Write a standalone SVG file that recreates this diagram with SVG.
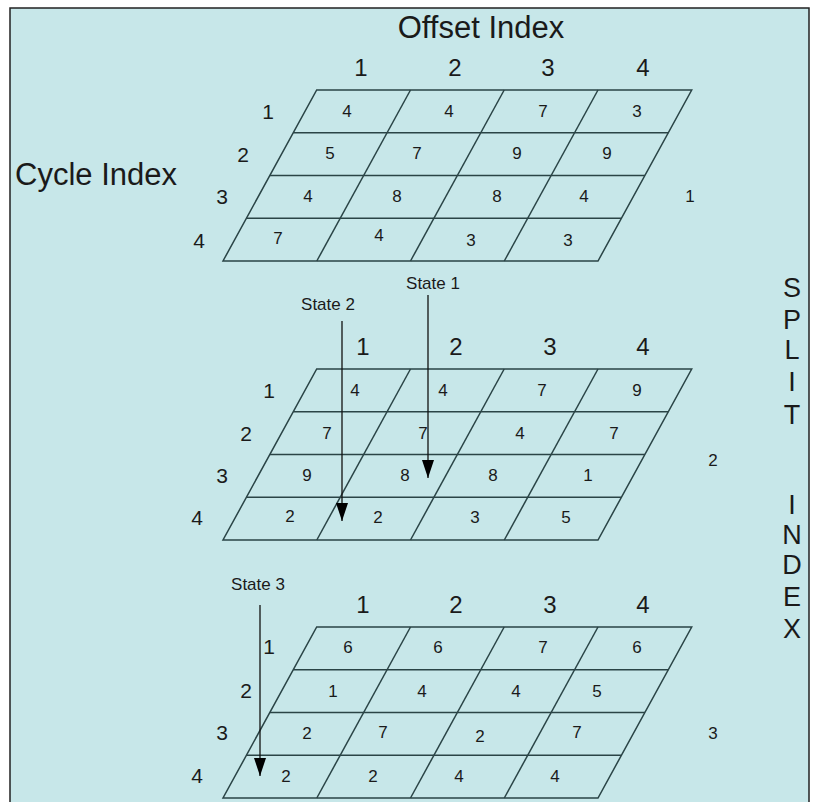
<svg xmlns="http://www.w3.org/2000/svg" width="814" height="802" viewBox="0 0 814 802">
<style>
text{font-family:"Liberation Sans",Arial,sans-serif;fill:#1a1a1a;text-anchor:middle}
.t{font-size:31px}
.h{font-size:24px}
.v{font-size:27px}
.r{font-size:21px}
.c{font-size:17px}
.s{font-size:17px}
.g{fill:none;stroke:#2a4446;stroke-width:1.5}
.a{stroke:#111;stroke-width:1.3}
</style>
<defs>
<g id="grid">
<polygon class="g" points="316.7,0 691.7,0 598,171 223,171"/>
<line class="g" x1="293.3" y1="42.75" x2="668.3" y2="42.75"/>
<line class="g" x1="269.9" y1="85.5" x2="644.9" y2="85.5"/>
<line class="g" x1="246.4" y1="128.25" x2="621.4" y2="128.25"/>
<line class="g" x1="410.5" y1="0" x2="316.8" y2="171"/>
<line class="g" x1="504.2" y1="0" x2="410.5" y2="171"/>
<line class="g" x1="598" y1="0" x2="504.3" y2="171"/>
</g>
<marker id="ah" viewBox="0 0 18 12" refX="18" refY="6" markerWidth="18" markerHeight="12" markerUnits="userSpaceOnUse" orient="auto">
<path d="M0,0 L18,6 L0,12 Z" fill="#000"/>
</marker>
</defs>
<rect x="0" y="0" width="814" height="802" fill="#fff"/>
<rect x="10" y="8" width="799" height="800" fill="#c7e7e9" stroke="#222" stroke-width="1.5"/>
<g id="titles">
<text class="t" x="481" y="38">Offset Index</text>
<text class="t" x="96" y="185">Cycle Index</text>
<g id="split-index">
<text class="v" x="792" y="297">S</text>
<text class="v" x="792" y="329">P</text>
<text class="v" x="792" y="359">L</text>
<text class="v" x="792" y="391">I</text>
<text class="v" x="792" y="424">T</text>
<text class="v" x="792" y="514">I</text>
<text class="v" x="792" y="544">N</text>
<text class="v" x="792" y="574">D</text>
<text class="v" x="792" y="606">E</text>
<text class="v" x="792" y="638">X</text>
</g>
</g>
<g id="split1">
<use href="#grid" y="90"/>
<text class="h" x="361" y="76">1</text><text class="h" x="455" y="76">2</text><text class="h" x="548" y="76">3</text><text class="h" x="643" y="76">4</text>
<text class="r" x="268" y="119">1</text><text class="r" x="243" y="162">2</text><text class="r" x="222" y="204">3</text><text class="r" x="199" y="248">4</text>
<text class="c" x="347" y="117">4</text><text class="c" x="449" y="117">4</text><text class="c" x="543" y="117">7</text><text class="c" x="637" y="117">3</text>
<text class="c" x="330" y="159">5</text><text class="c" x="417" y="159">7</text><text class="c" x="517" y="159">9</text><text class="c" x="607" y="159">9</text>
<text class="c" x="308" y="202">4</text><text class="c" x="397" y="202">8</text><text class="c" x="497" y="202">8</text><text class="c" x="584" y="202">4</text>
<text class="c" x="278" y="244">7</text><text class="c" x="379" y="241">4</text><text class="c" x="471" y="246">3</text><text class="c" x="568" y="246">3</text>
<text class="c" x="690" y="202">1</text>
</g>
<g id="split2">
<use href="#grid" y="369"/>
<text class="h" x="363" y="355">1</text><text class="h" x="456" y="355">2</text><text class="h" x="550" y="355">3</text><text class="h" x="643" y="355">4</text>
<text class="r" x="269" y="398">1</text><text class="r" x="246" y="441">2</text><text class="r" x="222" y="483">3</text><text class="r" x="197" y="525">4</text>
<text class="c" x="355" y="396">4</text><text class="c" x="443" y="396">4</text><text class="c" x="542" y="396">7</text><text class="c" x="637" y="396">9</text>
<text class="c" x="327" y="439">7</text><text class="c" x="423" y="439">7</text><text class="c" x="520" y="439">4</text><text class="c" x="614" y="439">7</text>
<text class="c" x="307" y="481">9</text><text class="c" x="405" y="481">8</text><text class="c" x="493" y="481">8</text><text class="c" x="588" y="481">1</text>
<text class="c" x="290" y="522">2</text><text class="c" x="378" y="523">2</text><text class="c" x="475" y="523">3</text><text class="c" x="566" y="523">5</text>
<text class="c" x="713" y="466">2</text>
</g>
<g id="split3">
<use href="#grid" y="627"/>
<text class="h" x="363" y="613">1</text><text class="h" x="456" y="613">2</text><text class="h" x="550" y="613">3</text><text class="h" x="643" y="613">4</text>
<text class="r" x="269" y="654">1</text><text class="r" x="246" y="698">2</text><text class="r" x="222" y="740">3</text><text class="r" x="197" y="783">4</text>
<text class="c" x="348" y="653">6</text><text class="c" x="438" y="653">6</text><text class="c" x="543" y="653">7</text><text class="c" x="637" y="653">6</text>
<text class="c" x="333" y="697">1</text><text class="c" x="422" y="697">4</text><text class="c" x="516" y="697">4</text><text class="c" x="597" y="697">5</text>
<text class="c" x="307" y="739">2</text><text class="c" x="383" y="738">7</text><text class="c" x="480" y="742">2</text><text class="c" x="577" y="738">7</text>
<text class="c" x="286" y="782">2</text><text class="c" x="373" y="782">2</text><text class="c" x="459" y="782">4</text><text class="c" x="555" y="782">4</text>
<text class="c" x="713" y="739">3</text>
</g>
<g id="states">
<text class="s" x="433" y="289">State 1</text>
<text class="s" x="328" y="310">State 2</text>
<text class="s" x="258" y="590">State 3</text>
</g>
<g id="connectors">
<line class="a" x1="428" y1="295" x2="428" y2="478" marker-end="url(#ah)"/>
<line class="a" x1="342" y1="321" x2="342" y2="521" marker-end="url(#ah)"/>
<line class="a" x1="260" y1="605" x2="260" y2="776" marker-end="url(#ah)"/>
</g>
</svg>
